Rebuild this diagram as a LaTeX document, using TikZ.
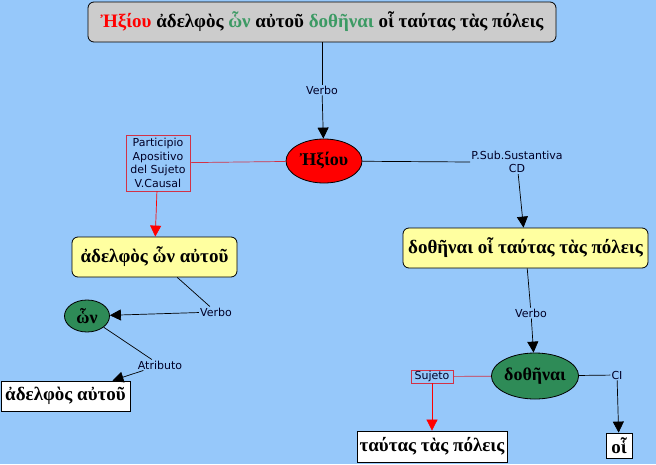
\documentclass[tikz,border=0pt]{standalone}
\usepackage{fontspec}
\setmainfont{Liberation Serif}
\newfontfamily\etiqfont{DejaVu Sans}
\usetikzlibrary{arrows.meta, shapes.geometric}

\definecolor{fondo}{RGB}{150,200,250}
\definecolor{gris}{RGB}{204,204,204}
\definecolor{amarillo}{RGB}{255,255,160}
\definecolor{verdeel}{RGB}{46,139,87}
\definecolor{verdet}{RGB}{60,154,100}
\definecolor{rojolin}{RGB}{210,50,70}

\begin{document}
\begin{tikzpicture}[x=1pt, y=-1pt,
    every node/.style={font=\bfseries\fontsize{19}{21}\selectfont, inner sep=0pt},
    caja/.style={draw, line width=0.8pt, fill=white},
    cajaredonda/.style={caja, rounded corners=6pt},
    elipse/.style={ellipse, draw, line width=0.8pt, font=\bfseries\fontsize{18}{20}\selectfont},
    etiq/.style={font=\etiqfont\fontsize{11}{13.5}\selectfont, text=black!85!blue, inner sep=1pt, align=center},
    linea/.style={line width=0.7pt},
    flecha/.style={linea, -{Triangle[length=11pt, width=11pt]}}
]

% Fondo
\fill[fondo] (0,0) rectangle (656,464);
\useasboundingbox (0,0) rectangle (656,464);

% Posiciones de los nodos
\node[cajaredonda, fill=gris, minimum width=468pt, minimum height=40pt] (titulo) at (322,22)
  {{\color{red}Ἠξίου} ἀδελφὸς {\color{verdet}ὧν} αὐτοῦ {\color{verdet}δοθῆναι} οἷ ταύτας τὰς πόλεις};
\node[etiq] (verbo1) at (322,90) {Verbo};
\node[elipse, fill=red, minimum width=76pt, minimum height=44pt] (hxiou) at (324,161) {Ἠξίου};
\node[etiq, draw=rojolin, minimum width=64pt, minimum height=56pt] (partic) at (158,163)
  {Participio\\Apositivo\\del Sujeto\\V.Causal};
\node[cajaredonda, fill=amarillo, minimum width=165pt, minimum height=40pt] (adelfos) at (154.5,257) {ἀδελφὸς ὧν αὐτοῦ};
\node[etiq] (verbo2) at (216,312) {Verbo};
\node[elipse, fill=verdeel, minimum width=45pt, minimum height=32pt] (won) at (87,316) {ὧν};
\node[etiq] (atrib) at (160,365) {Atributo};
\node[caja, minimum width=129pt, minimum height=30pt] (adelfos2) at (65.5,396) {ἀδελφὸς αὐτοῦ};
\node[etiq] (psub) at (517,162) {P.Sub.Sustantiva\\CD};
\node[cajaredonda, fill=amarillo, minimum width=245pt, minimum height=40pt] (dothenai) at (525.5,248) {δοθῆναι οἷ ταύτας τὰς πόλεις};
\node[etiq] (verbo3) at (531,313) {Verbo};
\node[elipse, fill=verdeel, minimum width=86pt, minimum height=46pt] (dotel) at (535,376) {δοθῆναι};
\node[etiq, draw=rojolin, minimum width=42pt, minimum height=13pt] (sujeto) at (432,376.5) {Sujeto};
\node[caja, minimum width=150pt, minimum height=31pt] (tautas) at (432,446.5) {ταύτας τὰς πόλεις};
\node[etiq] (ci) at (617,375) {CI};
\node[caja, minimum width=26pt, minimum height=25pt] (oi) at (619,445.5) {οἷ};

% Flechas
\draw[linea] (titulo) -- (verbo1);
\draw[flecha] (verbo1) -- (hxiou);
\draw[linea, rojolin] (hxiou) -- (partic);
\draw[flecha, red] (partic) -- (adelfos);
\draw[linea] (adelfos) -- (verbo2);
\draw[flecha] (verbo2) -- (won);
\draw[linea] (won) -- (atrib);
\draw[flecha] (atrib) -- (adelfos2);
\draw[linea] (hxiou) -- (psub.west);
\draw[flecha] (psub) -- (dothenai);
\draw[linea] (dothenai) -- (verbo3);
\draw[flecha] (verbo3) -- (dotel);
\draw[linea, rojolin] (dotel) -- (sujeto);
\draw[flecha, red] (sujeto) -- (tautas);
\draw[linea] (dotel) -- (ci);
\draw[flecha] (ci) -- (oi);

\end{tikzpicture}
\end{document}
